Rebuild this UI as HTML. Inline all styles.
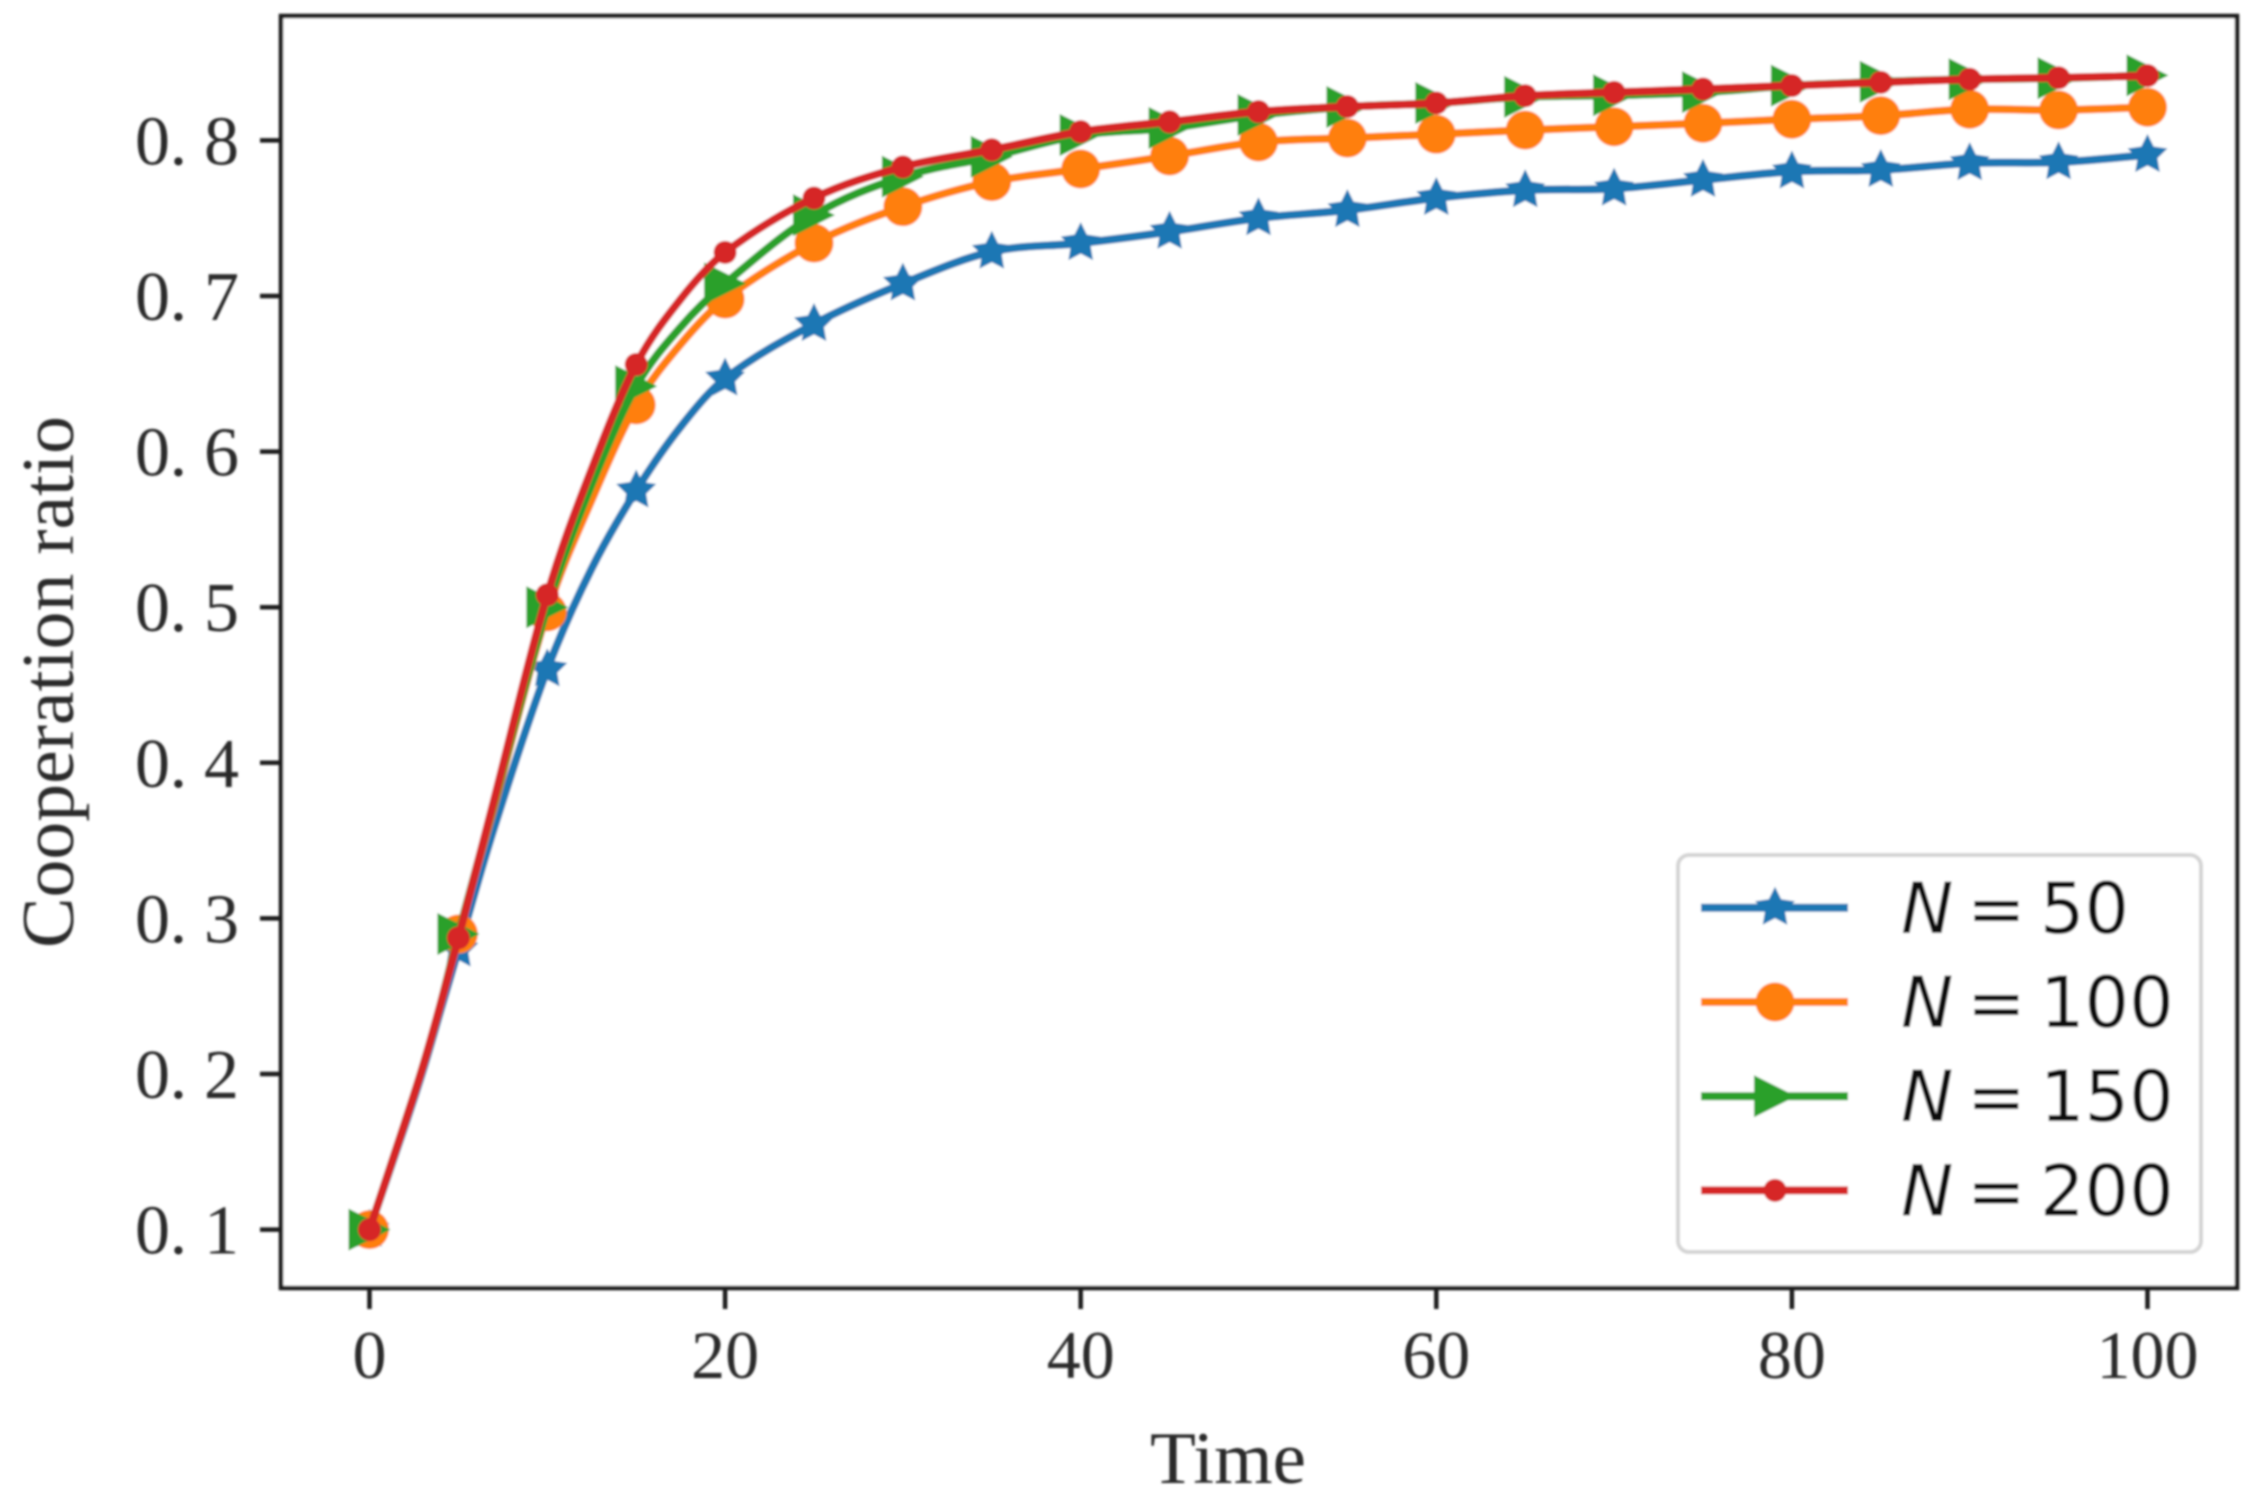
<!DOCTYPE html>
<html lang="en">
<head>
<meta charset="utf-8">
<title>Cooperation ratio over time</title>
<style>
html,body{margin:0;padding:0;background:#fff;}
svg{display:block;}
.serif{font-family:"Liberation Serif",serif;fill:#2a2a2a;}
.legend-text{font-family:"DejaVu Sans",sans-serif;fill:#111;font-size:70px;}
</style>
</head>
<body>
<svg id="chart" xmlns="http://www.w3.org/2000/svg" width="2252" height="1502" viewBox="0 0 2252 1502">
  <defs>
    <filter id="soft" x="-2%" y="-2%" width="104%" height="104%"><feGaussianBlur stdDeviation="1.1"/></filter>
  </defs>
  <rect width="2252" height="1502" fill="#fff"/>
  <g id="root" filter="url(#soft)"></g>
</svg>
<script>
const times = [0,2,3,4,5,7,10,12.5,15,17.5,20,25,30,35,40,45,50,55,60,65,70,75,80,85,90,95,100];
const seriesN50 = [0.1,0.167,0.202,0.241,0.28,0.358,0.46,0.525,0.575,0.616,0.647,0.682,0.708,0.7285,0.734,0.7413,0.75,0.7552,0.763,0.768,0.769,0.7746,0.78,0.781,0.7854,0.786,0.7906];
const seriesN100 = [0.1,0.169,0.2047,0.245,0.29,0.372,0.497,0.569,0.63,0.669,0.698,0.734,0.7574,0.7735,0.7816,0.79,0.799,0.8015,0.804,0.8066,0.8088,0.811,0.8136,0.8159,0.82,0.8195,0.8213];
const seriesN150 = [0.1,0.169,0.2047,0.245,0.29,0.374,0.5,0.579,0.642,0.68,0.708,0.752,0.7767,0.7895,0.8035,0.808,0.8163,0.8215,0.824,0.828,0.829,0.831,0.8352,0.8377,0.8393,0.84,0.8418];
const seriesN200 = [0.1,0.169,0.2047,0.245,0.2875,0.376,0.508,0.589,0.656,0.698,0.728,0.763,0.783,0.794,0.8056,0.812,0.8185,0.8217,0.824,0.8287,0.8309,0.833,0.8352,0.8373,0.8393,0.8403,0.8416];
const xTickValues = [0,20,40,60,80,100];
const xTickLabels = ["0","20","40","60","80","100"];
const yTickValues = [0.1,0.2,0.3,0.4,0.5,0.6,0.7,0.8];
const yTickLabels = ["0. 1","0. 2","0. 3","0. 4","0. 5","0. 6","0. 7","0. 8"];
const legendCounts = ["50","100","150","200"];

const NS = "http://www.w3.org/2000/svg";
const root = document.getElementById("root");
const xScale = t => 369.5 + 17.78 * t;
const yScale = v => 140.4 + (0.8 - v) * 1556;

function make(tag, attrs, parent) {
  const el = document.createElementNS(NS, tag);
  for (const k in attrs) el.setAttribute(k, attrs[k]);
  (parent || root).appendChild(el);
  return el;
}

function curvePath(xs, ys) {
  const pts = xs.map((t, i) => [xScale(t), yScale(ys[i])]);
  let d = "M" + pts[0][0].toFixed(1) + " " + pts[0][1].toFixed(1);
  for (let i = 0; i < pts.length - 1; i++) {
    const p0 = pts[Math.max(i - 1, 0)], p1 = pts[i], p2 = pts[i + 1], p3 = pts[Math.min(i + 2, pts.length - 1)];
    const h = p2[0] - p1[0];
    const m1 = (p2[1] - p0[1]) / (p2[0] - p0[0]);
    const m2 = (p3[1] - p1[1]) / (p3[0] - p1[0]);
    const c1x = p1[0] + h / 3, c1y = p1[1] + m1 * h / 3;
    const c2x = p2[0] - h / 3, c2y = p2[1] - m2 * h / 3;
    d += "C" + [c1x, c1y, c2x, c2y, p2[0], p2[1]].map(n => n.toFixed(1)).join(" ");
  }
  return d;
}

function starPoints(cx, cy, R) {
  const out = [];
  for (let i = 0; i < 10; i++) {
    const r = i % 2 ? R * 0.5 : R;
    const a = -Math.PI / 2 + i * Math.PI / 5;
    out.push((cx + r * Math.cos(a)).toFixed(1) + "," + (cy + r * Math.sin(a)).toFixed(1));
  }
  return out.join(" ");
}

function drawMarker(kind, cx, cy, color, parent) {
  let m;
  if (kind === "star") {
    m = make("polygon", {points: starPoints(cx, cy, 21), fill: color}, parent);
  } else if (kind === "circle") {
    m = make("circle", {cx: cx, cy: cy, r: 19.5, fill: color}, parent);
  } else if (kind === "triangle") {
    const R = 21;
    m = make("polygon", {points: (cx - R) + "," + (cy - R) + " " + (cx + R) + "," + cy + " " + (cx - R) + "," + (cy + R), fill: color}, parent);
  } else {
    m = make("circle", {cx: cx, cy: cy, r: 11.5, fill: color}, parent);
  }
  return m;
}

/* plot area */
const plotBg = make("rect", {x: 281, y: 16, width: 1956, height: 1272, fill: "#fff"});



/* series */
const seriesList = [
  {name: "n-50", values: seriesN50, color: "#1f77b4", kind: "star"},
  {name: "n-100", values: seriesN100, color: "#ff7f0e", kind: "circle"},
  {name: "n-150", values: seriesN150, color: "#2ca02c", kind: "triangle"},
  {name: "n-200", values: seriesN200, color: "#d62728", kind: "dot"}
];
seriesList.forEach(s => {
  const g = make("g", {});
  
  
  const line = make("path", {d: curvePath(times, s.values), fill: "none", stroke: s.color, "stroke-width": 8, "stroke-linejoin": "round", "stroke-linecap": "round"}, g);
  
  
  times.forEach((t, i) => {
    if (t % 5 !== 0) return;
    const m = drawMarker(s.kind, xScale(t), yScale(s.values[i]), s.color, g);
    
    
  });
});

/* spines */
const frame = make("rect", {x: 281, y: 16, width: 1956, height: 1272, fill: "none", stroke: "#1c1c1c", "stroke-width": 4.5});



/* x axis */
xTickValues.forEach((t, i) => {
  const tick = make("line", {x1: xScale(t), x2: xScale(t), y1: 1288, y2: 1309, stroke: "#1c1c1c", "stroke-width": 4.5});
  
  
  const label = make("text", {x: xScale(t), y: 1378, "text-anchor": "middle", class: "serif", "font-size": 68});
  label.textContent = xTickLabels[i];
  
  
});

/* y axis */
yTickValues.forEach((v, i) => {
  const tick = make("line", {x1: 260, x2: 281, y1: yScale(v), y2: yScale(v), stroke: "#1c1c1c", "stroke-width": 4.5});
  
  
  const label = make("text", {x: 135, y: yScale(v) + 24, class: "serif", "font-size": 70, textLength: 104, lengthAdjust: "spacing"});
  label.textContent = yTickLabels[i];
  label.setAttribute('xml:space', 'preserve');
  
  
});

/* axis titles */
const xTitle = make("text", {x: 1228, y: 1483, "text-anchor": "middle", class: "serif", "font-size": 74, textLength: 156, lengthAdjust: "spacingAndGlyphs"});
xTitle.textContent = "Time";



const yTitle = make("text", {x: 0, y: 0, transform: "translate(73 682) rotate(-90)", "text-anchor": "middle", class: "serif", "font-size": 74, textLength: 532, lengthAdjust: "spacingAndGlyphs"});
yTitle.textContent = "Cooperation ratio";



/* legend */
const legend = make("g", {});


const legendBox = make("rect", {x: 1678, y: 855, width: 523, height: 397, rx: 11, ry: 11, fill: "#fff", stroke: "#d4d4d4", "stroke-width": 4}, legend);


const legendRowY = i => 907.8 + i * 94.2;
seriesList.forEach((s, i) => {
  const y = legendRowY(i);
  const entry = make("g", {}, legend);
  
  
  const ln = make("line", {x1: 1701, x2: 1848, y1: y, y2: y, stroke: s.color, "stroke-width": 8}, entry);
  
  
  const mk = drawMarker(s.kind, 1775, y, s.color, entry);
  
  
  const base = y + 25;
  const nText = make("text", {x: 1901, y: base, class: "legend-text", "font-style": "italic"}, entry);
  nText.textContent = "N";
  
  
  const eqText = make("text", {x: 1967, y: base, class: "legend-text"}, entry);
  eqText.textContent = "=";
  
  
  const valText = make("text", {x: 2040, y: base, class: "legend-text"}, entry);
  valText.textContent = legendCounts[i];
  
  
});
</script>
</body>
</html>
